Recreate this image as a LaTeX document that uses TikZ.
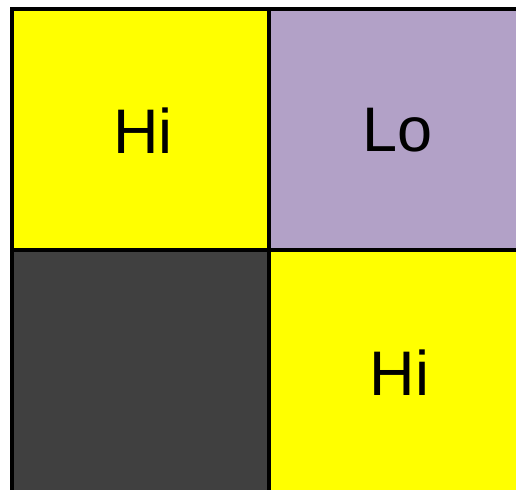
\documentclass[tikz,border=0pt]{standalone}
\usepackage{fontspec}
\setmainfont{Liberation Sans}
\definecolor{hiyellow}{RGB}{255,255,0}
\definecolor{lopurple}{RGB}{178,161,199}
\definecolor{darkcell}{RGB}{64,64,64}
\begin{document}
\begin{tikzpicture}[x=1pt,y=-1pt,
  gridline/.style={draw=black,line width=4pt},
  celltext/.style={inner sep=0pt,font=\fontsize{63}{63}\selectfont,text=black}]
\useasboundingbox (0,0) rectangle (516,490);
\fill[white] (0,0) rectangle (516,490);
% cells
\fill[hiyellow] (12,9) rectangle (269,249.5);
\fill[lopurple] (269,9) rectangle (516,249.5);
\fill[darkcell] (12,249.5) rectangle (269,490);
\fill[hiyellow] (269,249.5) rectangle (516,490);
% grid lines
\coordinate (tl) at (10,9);
\coordinate (tr) at (516,9);
\coordinate (lt) at (12,7);
\coordinate (lb) at (12,490);
\coordinate (mt) at (269,9);
\coordinate (mb) at (269,490);
\coordinate (ml) at (12,249.5);
\coordinate (mr) at (516,249.5);
\draw[gridline] (tl) -- (tr);
\draw[gridline] (lt) -- (lb);
\draw[gridline] (mt) -- (mb);
\draw[gridline] (ml) -- (mr);
% labels
\node[celltext] (hi1) at (142.8,130.8) {Hi};
\node[celltext] (lo) at (397.5,130) {Lo};
\node[celltext] (hi2) at (399.5,372.5) {Hi};
\end{tikzpicture}
\end{document}
